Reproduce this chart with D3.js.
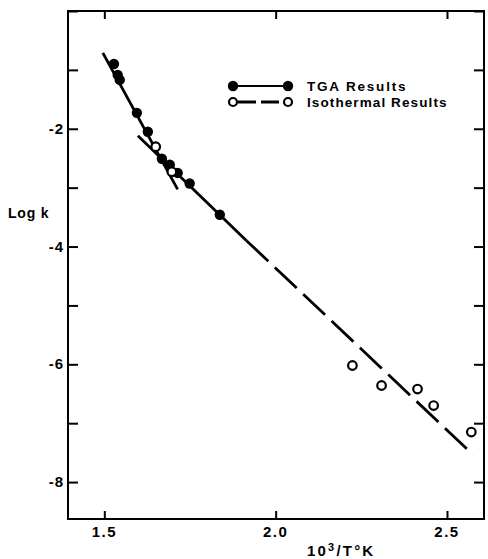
<!DOCTYPE html>
<html><head><meta charset="utf-8">
<script src="https://cdn.jsdelivr.net/npm/d3@7"></script>
<style>body{margin:0;background:#fff}svg{display:block}text{font-family:"Liberation Sans",Arial,sans-serif;font-weight:bold;fill:#000}</style>
</head><body><svg id="c" width="488" height="559"></svg>
<script>
// Data
const tgaX = [1.528, 1.539, 1.545, 1.595, 1.627, 1.668, 1.691, 1.714, 1.749, 1.837];
const tgaY = [-0.90, -1.085, -1.17, -1.73, -2.05, -2.51, -2.61, -2.75, -2.93, -3.46];
const isoX = [1.650, 1.697, 2.224, 2.309, 2.414, 2.461, 2.571];
const isoY = [-2.305, -2.73, -6.02, -6.36, -6.42, -6.70, -7.15];
const tgaLineX = [1.4956, 1.714];
const tgaLineY = [-0.71, -3.03];
const isoSolidX = [1.598, 1.915];
const isoSolidY = [-2.12, -3.90];
const isoDashX = [1.915, 2.577];
const isoDashY = [-3.90, -7.54];
const xTicks = [1.5, 2.0, 2.5];
const xTickLabels = ["1.5", "2.0", "2.5"];
const yTicks = [0, -1, -2, -3, -4, -5, -6, -7, -8];
const yLabelTicks = [-2, -4, -6, -8];
const legendLabels = ["TGA Results", "Isothermal Results"];

const svg = d3.select("#c");
const L = 68, R = 484, T = 11, B = 519;
const x = d3.scaleLinear().domain([1.394, 2.608]).range([L, R]);
const y = d3.scaleLinear().domain([0, -8.627]).range([T, B]);

// frame
svg.append("rect").attr("x", L).attr("y", T).attr("width", R - L).attr("height", B - T)
  .attr("fill", "none").attr("stroke", "#000").attr("stroke-width", 2);

// axes with inward ticks
const gBottom = svg.append("g").attr("transform", `translate(0,${B})`)
  .call(d3.axisTop(x).tickValues(xTicks).tickSize(8).tickFormat(""));
const gTop = svg.append("g").attr("transform", `translate(0,${T})`)
  .call(d3.axisBottom(x).tickValues(xTicks).tickSize(8).tickFormat(""));
const gLeft = svg.append("g").attr("transform", `translate(${L},0)`)
  .call(d3.axisRight(y).tickValues(yTicks).tickSize(10).tickFormat(""));
const gRight = svg.append("g").attr("transform", `translate(${R},0)`)
  .call(d3.axisLeft(y).tickValues(yTicks).tickSize(10).tickFormat(""));
[gBottom, gTop, gLeft, gRight].forEach(g => {
  g.select(".domain").remove();
  g.selectAll("line").attr("stroke", "#000").attr("stroke-width", 2);
});

// tick labels
svg.selectAll(".xl").data(xTicks).enter().append("text")
  .attr("x", d => x(d)).attr("y", 537).attr("text-anchor", "middle")
  .attr("font-size", 15).attr("letter-spacing", 1.5)
  .text((d, i) => xTickLabels[i]);
svg.selectAll(".yl").data(yLabelTicks).enter().append("text")
  .attr("x", 64).attr("y", d => y(d) + 5).attr("text-anchor", "end")
  .attr("font-size", 15).attr("letter-spacing", 1)
  .text(d => "-" + Math.abs(d));

// axis titles
svg.append("text").attr("x", 8).attr("y", 218).attr("font-size", 14).attr("letter-spacing", 0.8).text("Log k");
const xt = svg.append("text").attr("x", 307).attr("y", 556).attr("font-size", 15).attr("letter-spacing", 2.2);
xt.append("tspan").text("10");
xt.append("tspan").attr("dy", -5).attr("font-size", 11).text("3");
xt.append("tspan").attr("dy", 5).text("/T°K");

// lines
const line = d3.line().x(d => x(d[0])).y(d => y(d[1]));
svg.append("path").datum(d3.zip(tgaLineX, tgaLineY)).attr("d", line)
  .attr("fill", "none").attr("stroke", "#000").attr("stroke-width", 2.8);
svg.append("path").datum(d3.zip(isoSolidX, isoSolidY)).attr("d", line)
  .attr("fill", "none").attr("stroke", "#000").attr("stroke-width", 2.8);
svg.append("path").datum(d3.zip(isoDashX, isoDashY)).attr("d", line)
  .attr("fill", "none").attr("stroke", "#000").attr("stroke-width", 2.8)
  .attr("stroke-dasharray", "30,9");

// points
svg.selectAll(".tga").data(d3.zip(tgaX, tgaY)).enter().append("circle")
  .attr("cx", d => x(d[0])).attr("cy", d => y(d[1])).attr("r", 5.2).attr("fill", "#000");
svg.selectAll(".iso").data(d3.zip(isoX, isoY)).enter().append("circle")
  .attr("cx", d => x(d[0])).attr("cy", d => y(d[1])).attr("r", 4.3)
  .attr("fill", "#fff").attr("stroke", "#000").attr("stroke-width", 2.2);

// legend
const lg = svg.append("g");
lg.append("line").attr("x1", 233).attr("x2", 288).attr("y1", 86).attr("y2", 86).attr("stroke", "#000").attr("stroke-width", 2);
lg.selectAll(".lf").data([233, 288]).enter().append("circle").attr("cx", d => d).attr("cy", 86).attr("r", 5.2).attr("fill", "#000");
lg.append("line").attr("x1", 233).attr("x2", 288).attr("y1", 102).attr("y2", 102).attr("stroke", "#000").attr("stroke-width", 2.8).attr("stroke-dasharray", "18,5").attr("stroke-dashoffset", -5);
lg.selectAll(".lo").data([233, 288]).enter().append("circle").attr("cx", d => d).attr("cy", 102).attr("r", 4).attr("fill", "#fff").attr("stroke", "#000").attr("stroke-width", 2.2);
lg.selectAll(".lt").data(legendLabels).enter().append("text")
  .attr("x", 307).attr("y", (d, i) => 91 + i * 16).attr("font-size", 13.5)
  .attr("letter-spacing", (d, i) => i === 0 ? 1.8 : 1.1)
  .text(d => d);
</script></body></html>
